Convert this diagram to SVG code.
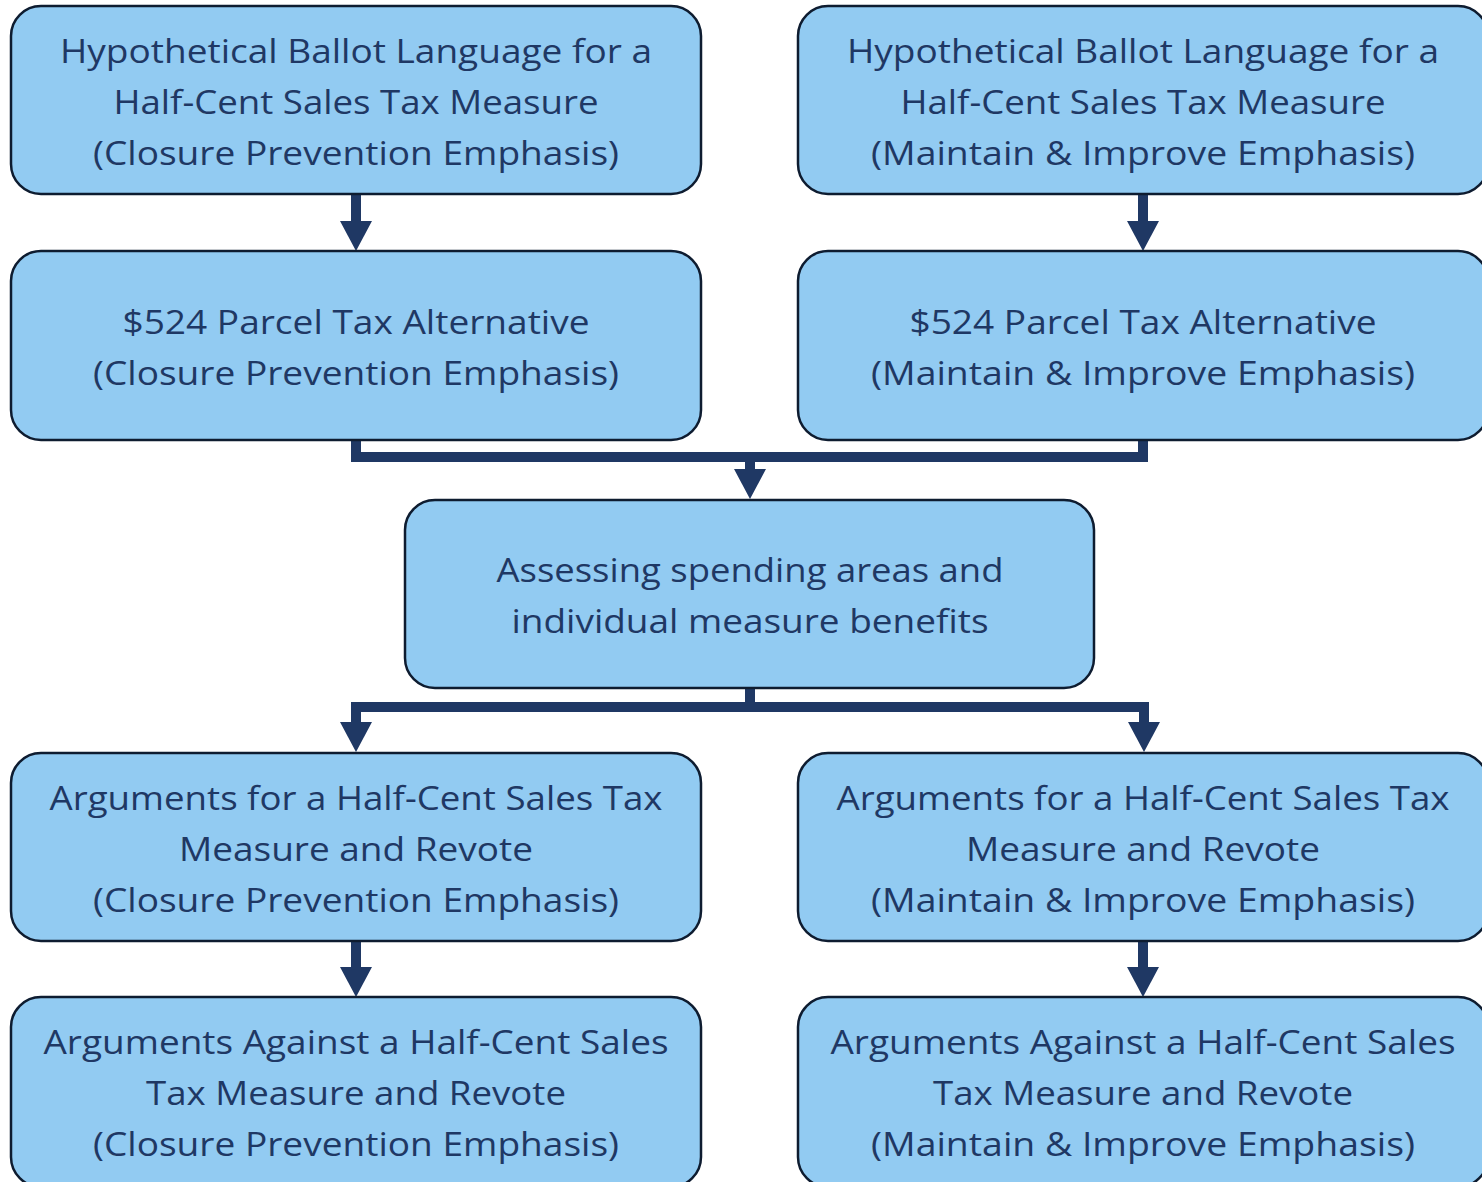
<svg xmlns="http://www.w3.org/2000/svg" width="1482" height="1182" viewBox="0 0 1482 1182">
<style>
.box{fill:#92CBF2;stroke:#0E1C30;stroke-width:2.5}
.t{font-family:"Open Sans","Liberation Sans",sans-serif;font-size:32px;fill:#1F3864;text-anchor:middle}
.c{fill:none;stroke:#1F3864;stroke-width:10;stroke-linejoin:miter}
</style>
<defs>
<marker id="ah" markerUnits="userSpaceOnUse" markerWidth="32" markerHeight="32" refX="0" refY="16" orient="auto" viewBox="0 0 30 32">
<path d="M0,0 L30,16 L0,32 z" fill="#1F3864"/>
</marker>
</defs>
<rect width="1482" height="1182" fill="#fff"/>
<g id="connectors">
<path class="c" d="M356,194 V221" marker-end="url(#ah)"/>
<path class="c" d="M1143,194 V221" marker-end="url(#ah)"/>
<path class="c" d="M356,440 V457 H1143 V440"/>
<path class="c" d="M750,457 V469" marker-end="url(#ah)"/>
<path class="c" d="M750,688 V707"/>
<path class="c" d="M755,707 H356 V722" marker-end="url(#ah)"/>
<path class="c" d="M745,707 H1144 V722" marker-end="url(#ah)"/>
<path class="c" d="M356,941 V967" marker-end="url(#ah)"/>
<path class="c" d="M1143,941 V967" marker-end="url(#ah)"/>
</g>
<g id="n1">
<rect class="box" x="11" y="6" width="690" height="188" rx="30"/>
<text class="t" x="356" y="63" textLength="592" lengthAdjust="spacingAndGlyphs">Hypothetical Ballot Language for a</text>
<text class="t" x="356" y="114" textLength="485" lengthAdjust="spacingAndGlyphs">Half-Cent Sales Tax Measure</text>
<text class="t" x="356" y="165" textLength="526" lengthAdjust="spacingAndGlyphs">(Closure Prevention Emphasis)</text>
</g>
<g id="n2">
<rect class="box" x="798" y="6" width="690" height="188" rx="30"/>
<text class="t" x="1143" y="63" textLength="592" lengthAdjust="spacingAndGlyphs">Hypothetical Ballot Language for a</text>
<text class="t" x="1143" y="114" textLength="485" lengthAdjust="spacingAndGlyphs">Half-Cent Sales Tax Measure</text>
<text class="t" x="1143" y="165" textLength="544" lengthAdjust="spacingAndGlyphs">(Maintain &amp; Improve Emphasis)</text>
</g>
<g id="n3">
<rect class="box" x="11" y="251" width="690" height="189" rx="30"/>
<text class="t" x="356" y="334" textLength="467" lengthAdjust="spacingAndGlyphs">$524 Parcel Tax Alternative</text>
<text class="t" x="356" y="385" textLength="526" lengthAdjust="spacingAndGlyphs">(Closure Prevention Emphasis)</text>
</g>
<g id="n4">
<rect class="box" x="798" y="251" width="690" height="189" rx="30"/>
<text class="t" x="1143" y="334" textLength="467" lengthAdjust="spacingAndGlyphs">$524 Parcel Tax Alternative</text>
<text class="t" x="1143" y="385" textLength="544" lengthAdjust="spacingAndGlyphs">(Maintain &amp; Improve Emphasis)</text>
</g>
<g id="n5">
<rect class="box" x="405" y="500" width="689" height="188" rx="30"/>
<text class="t" x="750" y="582" textLength="507" lengthAdjust="spacingAndGlyphs">Assessing spending areas and</text>
<text class="t" x="750" y="633" textLength="477" lengthAdjust="spacingAndGlyphs">individual measure benefits</text>
</g>
<g id="n6">
<rect class="box" x="11" y="753" width="690" height="188" rx="30"/>
<text class="t" x="356" y="810" textLength="613" lengthAdjust="spacingAndGlyphs">Arguments for a Half-Cent Sales Tax</text>
<text class="t" x="356" y="861" textLength="354" lengthAdjust="spacingAndGlyphs">Measure and Revote</text>
<text class="t" x="356" y="912" textLength="526" lengthAdjust="spacingAndGlyphs">(Closure Prevention Emphasis)</text>
</g>
<g id="n7">
<rect class="box" x="798" y="753" width="690" height="188" rx="30"/>
<text class="t" x="1143" y="810" textLength="613" lengthAdjust="spacingAndGlyphs">Arguments for a Half-Cent Sales Tax</text>
<text class="t" x="1143" y="861" textLength="354" lengthAdjust="spacingAndGlyphs">Measure and Revote</text>
<text class="t" x="1143" y="912" textLength="544" lengthAdjust="spacingAndGlyphs">(Maintain &amp; Improve Emphasis)</text>
</g>
<g id="n8">
<rect class="box" x="11" y="997" width="690" height="190" rx="30"/>
<text class="t" x="356" y="1054" textLength="625" lengthAdjust="spacingAndGlyphs">Arguments Against a Half-Cent Sales</text>
<text class="t" x="356" y="1105" textLength="420" lengthAdjust="spacingAndGlyphs">Tax Measure and Revote</text>
<text class="t" x="356" y="1156" textLength="526" lengthAdjust="spacingAndGlyphs">(Closure Prevention Emphasis)</text>
</g>
<g id="n9">
<rect class="box" x="798" y="997" width="690" height="190" rx="30"/>
<text class="t" x="1143" y="1054" textLength="625" lengthAdjust="spacingAndGlyphs">Arguments Against a Half-Cent Sales</text>
<text class="t" x="1143" y="1105" textLength="420" lengthAdjust="spacingAndGlyphs">Tax Measure and Revote</text>
<text class="t" x="1143" y="1156" textLength="544" lengthAdjust="spacingAndGlyphs">(Maintain &amp; Improve Emphasis)</text>
</g>
</svg>
